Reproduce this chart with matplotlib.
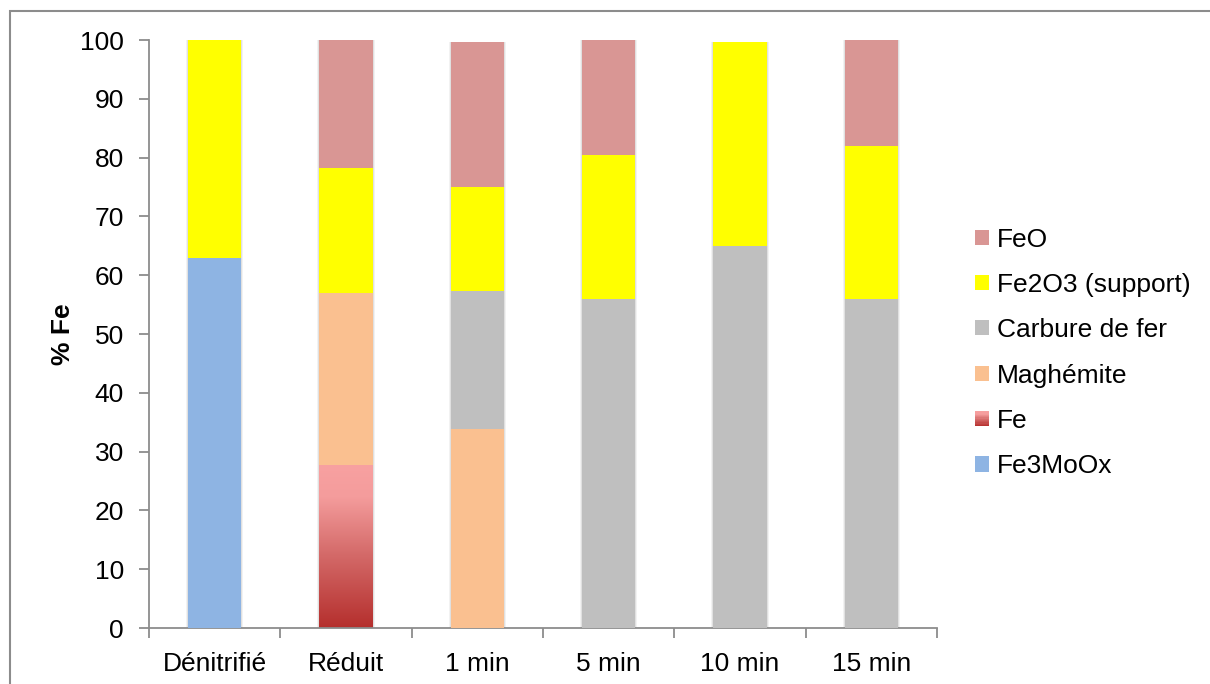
import numpy as np
import matplotlib
matplotlib.use("Agg")
import matplotlib.pyplot as plt
from matplotlib.patches import Rectangle
from matplotlib.colors import LinearSegmentedColormap
from matplotlib.legend_handler import HandlerBase

plt.rcParams['font.family'] = ['Liberation Sans', 'DejaVu Sans']

categories = ["Dénitrifié", "Réduit", "1 min", "5 min", "10 min", "15 min"]
fe3moox = [63.0, 0, 0, 0, 0, 0]
fe = [0, 27.8, 0, 0, 0, 0]
maghemite = [0, 29.2, 33.9, 0, 0, 0]
carbure = [0, 0, 23.4, 56.0, 64.9, 55.9]
fe2o3 = [37.0, 21.2, 17.7, 24.4, 34.8, 26.0]
feo = [0, 21.8, 24.7, 19.6, 0, 18.1]

series = [
    ("Fe3MoOx", fe3moox, "#8EB4E3"),
    ("Fe", fe, None),
    ("Maghémite", maghemite, "#FAC090"),
    ("Carbure de fer", carbure, "#BFBFBF"),
    ("Fe2O3 (support)", fe2o3, "#FFFF00"),
    ("FeO", feo, "#D99694"),
]

fe_cmap = LinearSegmentedColormap.from_list(
    "fe", [(0.0, "#B52F2D"), (0.45, "#D46A69"), (0.8, "#F49C9C"), (1.0, "#F8A1A1")])

FS = 19
fig = plt.figure(figsize=(12.1, 6.84), dpi=100)
ax = fig.add_axes([149/1210, 1-628/684, (937-149)/1210, (628-40)/684])

x = np.arange(len(categories))
width = 0.405
totals = np.sum([np.array(v, dtype=float) for _, v, _ in series], axis=0)
# soft shadow around each stack
for w, a in [(width + 0.03, 0.05), (width + 0.016, 0.07)]:
    ax.bar(x, totals, w, color='#000000', alpha=a, edgecolor='none', zorder=1)

bottom = np.zeros(len(categories))
for name, vals, color in series:
    vals = np.array(vals, dtype=float)
    if color is None:
        bars = ax.bar(x, vals, width, bottom=bottom, color='none', edgecolor='none', zorder=2)
        grad = np.linspace(0, 1, 256).reshape(-1, 1)
        for b, v in zip(bars, vals):
            if v <= 0:
                continue
            bx, by = b.get_x(), b.get_y()
            bw, bh = b.get_width(), b.get_height()
            ax.imshow(grad, cmap=fe_cmap, origin='lower', aspect='auto',
                      extent=[bx, bx + bw, by, by + bh], zorder=2.5)
    else:
        ax.bar(x, vals, width, bottom=bottom, color=color, edgecolor='none', zorder=3)
    bottom = bottom + vals

ax.set_xlim(-0.5, len(categories) - 0.5)
ax.set_ylim(0, 100)
ax.set_yticks(np.arange(0, 101, 10))
ax.set_xticks(x)
ax.set_xticklabels(categories)
ax.set_xticks(np.arange(-0.5, len(categories), 1), minor=True)
ax.tick_params(axis='x', which='major', length=0, pad=17, labelsize=FS)
ax.tick_params(axis='x', which='minor', length=7, color='#8C8C8C', width=1.3)
ax.tick_params(axis='y', length=7, color='#8C8C8C', width=1.3, pad=11, labelsize=FS)
for s in ['top', 'right']:
    ax.spines[s].set_visible(False)
for s in ['left', 'bottom']:
    ax.spines[s].set_color('#8C8C8C')
    ax.spines[s].set_linewidth(1.3)
ax.set_ylabel("% Fe", fontsize=FS, fontweight='bold', labelpad=4)


class GradHandler(HandlerBase):
    def create_artists(self, legend, orig_handle, xdescent, ydescent, width, height, fontsize, trans):
        arts = []
        n = 12
        for i in range(n):
            c = fe_cmap((i + 0.5) / n)
            r = Rectangle((-xdescent, -ydescent + height * i / n), width, height / n + 0.3,
                          facecolor=c, edgecolor='none', transform=trans)
            arts.append(r)
        return arts


legend_order = ["FeO", "Fe2O3 (support)", "Carbure de fer", "Maghémite", "Fe", "Fe3MoOx"]
colors = {n: c for n, _, c in series}
leg_handles = []
for n in legend_order:
    if colors[n] is None:
        leg_handles.append(Rectangle((0, 0), 1, 1, facecolor='#D46A69'))
    else:
        leg_handles.append(Rectangle((0, 0), 1, 1, facecolor=colors[n], edgecolor='none'))
fe_handle = leg_handles[legend_order.index("Fe")]
leg = fig.legend(leg_handles, legend_order, loc='center left', bbox_to_anchor=(0.7865, 0.484),
                 frameon=False, fontsize=FS, handlelength=0.5, handleheight=0.5,
                 handletextpad=0.3, labelspacing=0.81,
                 handler_map={fe_handle: GradHandler()})

# outer chart border
fig.patches.append(Rectangle((10/1210, -0.05), 1.2, 1 - 11/684 + 0.05, transform=fig.transFigure,
                             facecolor='none', edgecolor='#8C8C8C', linewidth=1.5, zorder=0))

fig.savefig("out.png", dpi=100)
